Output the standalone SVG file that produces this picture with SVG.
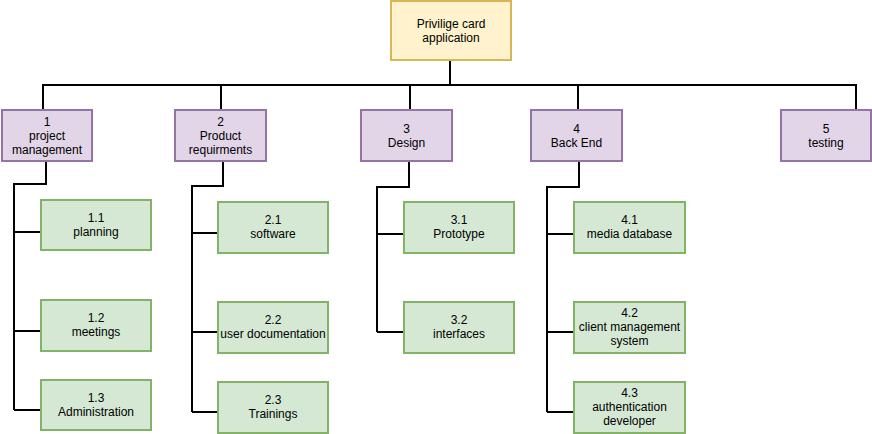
<svg xmlns="http://www.w3.org/2000/svg" width="872" height="434" viewBox="0 0 872 434">
<style>
text{font-family:"Liberation Sans",Arial,Helvetica,sans-serif;font-size:12px;fill:#000;text-anchor:middle}
.root{fill:#fff2cc;stroke:#d6b656;stroke-width:2}
.l1{fill:#e1d5e7;stroke:#9673a6;stroke-width:2}
.l2{fill:#d5e8d4;stroke:#82b366;stroke-width:2}
.c{fill:none;stroke:#000;stroke-width:2}
</style>
<rect width="872" height="434" fill="#fff"/>
<g id="connectors">
<path class="c" d="M450 60V85M43 110V85H856V110M221 85V110M410 85V110M578 85V110"/>
<path class="c" d="M46 161V184H14V410M14 232H41M14 331H41M14 410H41"/>
<path class="c" d="M223 161V186H192V412M192 233H218M192 332H218M192 412H218"/>
<path class="c" d="M409 161V187H377V332M377 234H404M377 332H404"/>
<path class="c" d="M579 161V187H547V412M547 234H574M547 332H574M547 412H574"/>
</g>
<g id="root"><rect class="root" x="391" y="1" width="120" height="59"/><text x="451" y="28">Privilige card</text><text x="451" y="42">application</text></g>
<g id="n1"><rect class="l1" x="2" y="110" width="90" height="51"/><text x="47" y="126">1</text><text x="47" y="140">project</text><text x="47" y="154">management</text></g>
<g id="n2"><rect class="l1" x="175" y="110" width="91" height="51"/><text x="220.5" y="126">2</text><text x="220.5" y="140">Product</text><text x="220.5" y="154">requirments</text></g>
<g id="n3"><rect class="l1" x="361" y="110" width="91" height="51"/><text x="406.5" y="133">3</text><text x="406.5" y="147">Design</text></g>
<g id="n4"><rect class="l1" x="531" y="110" width="91" height="51"/><text x="576.5" y="133">4</text><text x="576.5" y="147">Back End</text></g>
<g id="n5"><rect class="l1" x="781" y="110" width="90" height="51"/><text x="826" y="133">5</text><text x="826" y="147">testing</text></g>
<g id="n1_1"><rect class="l2" x="41" y="200" width="110" height="50"/><text x="96" y="222">1.1</text><text x="96" y="236">planning</text></g>
<g id="n1_2"><rect class="l2" x="41" y="300" width="110" height="51"/><text x="96" y="322">1.2</text><text x="96" y="336">meetings</text></g>
<g id="n1_3"><rect class="l2" x="41" y="380" width="110" height="50"/><text x="96" y="402">1.3</text><text x="96" y="416">Administration</text></g>
<g id="n2_1"><rect class="l2" x="218" y="202" width="110" height="51"/><text x="273" y="224">2.1</text><text x="273" y="238">software</text></g>
<g id="n2_2"><rect class="l2" x="218" y="302" width="110" height="51"/><text x="273" y="324">2.2</text><text x="273" y="338">user documentation</text></g>
<g id="n2_3"><rect class="l2" x="218" y="382" width="110" height="51"/><text x="273" y="404">2.3</text><text x="273" y="418">Trainings</text></g>
<g id="n3_1"><rect class="l2" x="404" y="202" width="110" height="51"/><text x="459" y="224">3.1</text><text x="459" y="238">Prototype</text></g>
<g id="n3_2"><rect class="l2" x="404" y="302" width="110" height="51"/><text x="459" y="324">3.2</text><text x="459" y="338">interfaces</text></g>
<g id="n4_1"><rect class="l2" x="574" y="202" width="111" height="51"/><text x="629.5" y="224">4.1</text><text x="629.5" y="238">media database</text></g>
<g id="n4_2"><rect class="l2" x="574" y="302" width="111" height="51"/><text x="629.5" y="317">4.2</text><text x="629.5" y="331">client management</text><text x="629.5" y="345">system</text></g>
<g id="n4_3"><rect class="l2" x="574" y="382" width="111" height="51"/><text x="629.5" y="397">4.3</text><text x="629.5" y="411">authentication</text><text x="629.5" y="425">developer</text></g>
</svg>
